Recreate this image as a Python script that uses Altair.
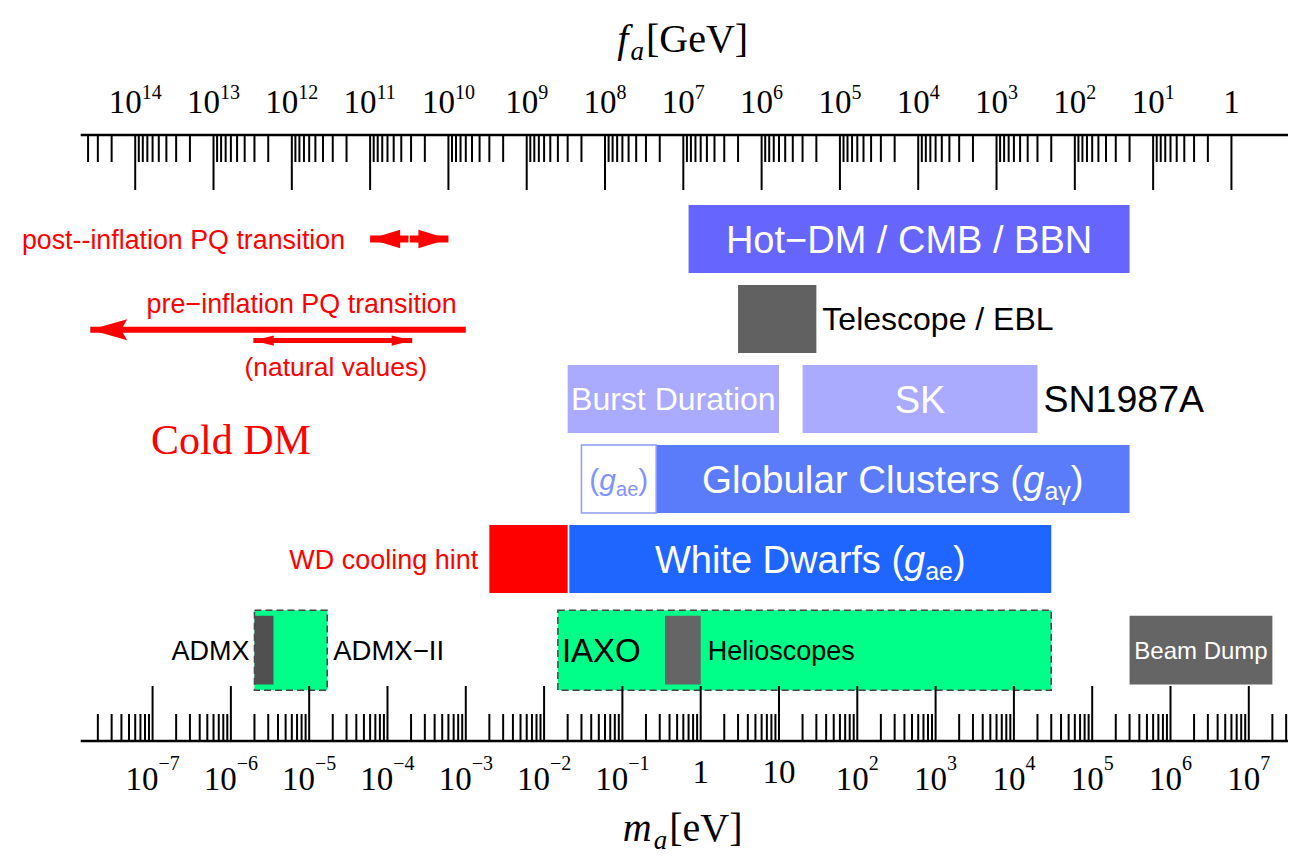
import altair as alt
import pandas as pd

# ---------------- data ----------------
MF = 6.0e6  # m_a [eV] * f_a [GeV]

TOP_DECADES = list(range(0, 15))     # f_a decades [GeV] carrying ticks
TOP_LABELS = list(range(0, 15))      # f_a decades labelled
BOT_DECADES = list(range(-8, 8))     # m_a decades [eV] carrying ticks
BOT_LABELS = list(range(-7, 8))      # m_a decades labelled
MINOR = [2, 3, 4, 5, 6, 7, 8, 9]

BAR_NAME = ["hot", "tel", "burst", "sk", "gce", "gc", "wdhint", "wd",
            "admx2", "iaxo", "admx", "helio", "beam"]
BAR_ROW = [0, 1, 2, 2, 3, 3, 4, 4, 5.14, 5.14, 5.14, 5.14, 5.14]
BAR_LO = [0.7, 3, 0.02, 20, 0.03, 0.27, 0.002, 0.021, 2e-6, 0.015, 2e-6, 0.35, 3e5]
BAR_HI = [3e5, 30, 10, 2e4, 0.27, 3e5, 0.02, 3e4, 1.7e-5, 3e4, 3.5e-6, 1.0, 2e7]

POST_F = [1e11, 1e10]     # post-inflation PQ transition [GeV]
PRE_M = [1e-3, 1.6e-8]    # pre-inflation arrow: start, tip [eV]
NAT_F = [3.1e12, 2.9e10]  # natural values [GeV]
COLD_M = [1e-6]
ANN_ROW = {"post": 0.0, "pre_text": 0.81, "pre_arrow": 1.134, "nat": 1.27,
           "nat_text": 1.59, "cold": 2.51}

# ---------------- styles ----------------
SANS = "Liberation Sans"
SERIF = "Liberation Serif"
RED = "#FF0000"
COL = {"hot": "#6666FF", "tel": "#616161", "burst": "#AAAAFF", "sk": "#AAAAFF",
       "gc": "#5B7CFA", "wdhint": "#FF0000", "wd": "#1F65FF",
       "admx": "#505050", "helio": "#656565", "beam": "#656565"}

W, H = 1207.3, 606
XS = alt.Scale(type="log", domain=[10 ** -7.918, 10 ** 7.5006], nice=False)
YS = alt.Scale(domain=[-1.3, 6.275], reverse=True, nice=False, zero=False)

ARIAL = {' ': 278, '(': 333, ')': 333, '/': 278, '−': 584, '-': 333,
         'A': 667, 'B': 667, 'C': 722, 'D': 722, 'E': 667, 'G': 778, 'H': 722,
         'I': 278, 'K': 667, 'L': 556, 'M': 833, 'N': 722, 'O': 778, 'P': 667,
         'Q': 778, 'S': 667, 'T': 611, 'W': 944, 'X': 667,
         'a': 556, 'b': 556, 'c': 500, 'd': 556, 'e': 556, 'f': 278, 'g': 556,
         'h': 556, 'i': 222, 'l': 222, 'm': 833, 'n': 556, 'o': 556, 'p': 556,
         'r': 333, 's': 500, 't': 278, 'u': 556, 'v': 500, 'w': 722, 'y': 500,
         'γ': 500}
TIMES = {'0': 500, '1': 500, '2': 500, '3': 500, '4': 500, '5': 500, '6': 500,
         '7': 500, '8': 500, '9': 500, '−': 564, '[': 333, ']': 333, 'G': 722,
         'e': 444, 'V': 722}
TIMES_IT = {'f': 278, 'a': 500, 'm': 722}


def wsans(s, size):
    return sum(ARIAL.get(c, 556) for c in s) * size / 1000.0


def X(f):
    return alt.X(f, type="quantitative", scale=XS, axis=None)


def Y(f):
    return alt.Y(f, type="quantitative", scale=YS, axis=None)


bars = pd.DataFrame(dict(name=BAR_NAME, row=BAR_ROW, lo=BAR_LO, hi=BAR_HI))
one = pd.DataFrame({"k": [0]})

layers = []

# ---------------- bars ----------------
def bar_layer(names, half, **mark):
    return (alt.Chart(bars)
            .transform_filter(alt.FieldOneOfPredicate(field="name", oneOf=names))
            .transform_calculate(y0=f"datum.row - {half}", y1=f"datum.row + {half}")
            .mark_rect(**mark)
            .encode(x=X("lo"), x2=alt.X2("hi"), y=Y("y0"), y2=alt.Y2("y1"),
                    color=alt.Color("name:N", legend=None,
                                    scale=alt.Scale(domain=list(COL.keys()),
                                                    range=list(COL.values())))))


layers.append(bar_layer(["hot", "tel", "burst", "sk", "gc", "wdhint", "wd"], 0.425))
layers.append(
    alt.Chart(bars)
    .transform_filter(alt.datum.name == "gce")
    .transform_calculate(y0="datum.row - 0.425", y1="datum.row + 0.425")
    .mark_rect(fill="white", stroke="#8A9BFF", strokeWidth=1.5)
    .encode(x=X("lo"), x2=alt.X2("hi"), y=Y("y0"), y2=alt.Y2("y1"))
)
layers.append(
    alt.Chart(bars)
    .transform_filter(alt.FieldOneOfPredicate(field="name", oneOf=["admx2", "iaxo"]))
    .transform_calculate(y0="datum.row - 0.5", y1="datum.row + 0.5")
    .mark_rect(fill="#00FF88", stroke="#444444", strokeWidth=1.5, strokeDash=[7, 4])
    .encode(x=X("lo"), x2=alt.X2("hi"), y=Y("y0"), y2=alt.Y2("y1"))
)
layers.append(bar_layer(["admx", "helio", "beam"], 0.43))


# ---------------- texts ----------------
def bar_base(name):
    return (alt.Chart(bars).transform_filter(alt.datum.name == name)
            .transform_calculate(cx="sqrt(datum.lo * datum.hi)"))


def txt(base, xf, yf, text, size, color, align="center", dx=0.0, dy=None,
        font=SANS, style="normal"):
    if dy is None:
        dy = 0.358 * size
    return base.mark_text(align=align, baseline="alphabetic", dx=dx, dy=dy,
                          fontSize=size, font=font, fontStyle=style,
                          color=color).encode(x=xf, y=yf, text=alt.value(text))


def rich(base, xf, yf, parts, color, main):
    # parts: (text, size, italic, shift)
    total = sum(wsans(t, s) for t, s, it, sh in parts)
    cur = -total / 2.0
    out = []
    for t, s, it, sh in parts:
        out.append(txt(base, xf, yf, t, s, color, align="left", dx=cur,
                       dy=0.358 * main + sh, style="italic" if it else "normal"))
        cur += wsans(t, s)
    return out


layers.append(txt(bar_base("hot"), X("cx"), Y("row"), "Hot−DM / CMB / BBN", 38, "white"))
layers.append(txt(bar_base("tel"), X("hi"), Y("row"), "Telescope / EBL", 32, "black",
                  align="left", dx=6))
layers.append(txt(bar_base("burst"), X("cx"), Y("row"), "Burst Duration", 32, "white"))
layers.append(txt(bar_base("sk"), X("cx"), Y("row"), "SK", 38, "white"))
layers.append(txt(bar_base("sk"), X("hi"), Y("row"), "SN1987A", 37.5, "black",
                  align="left", dx=6))
layers += rich(bar_base("gce"), X("cx"), Y("row"),
               [("(", 30, False, 0), ("g", 30, True, 0), ("ae", 20, False, 6),
                (")", 30, False, 0)], "#7F92FF", 30)
layers += rich(bar_base("gc"), X("cx"), Y("row"),
               [("Globular Clusters (", 38.5, False, 0), ("g", 38.5, True, 0),
                ("aγ", 25, False, 7), (")", 38.5, False, 0)], "white", 38.5)
layers.append(txt(bar_base("wdhint"), X("lo"), Y("row"), "WD cooling hint", 27, RED,
                  align="right", dx=-11))
layers += rich(bar_base("wd"), X("cx"), Y("row"),
               [("White Dwarfs (", 38, False, 0), ("g", 38, True, 0),
                ("ae", 25, False, 7), (")", 38, False, 0)], "white", 38)
layers.append(txt(bar_base("admx"), X("lo"), Y("row"), "ADMX", 27, "black",
                  align="right", dx=-5))
layers.append(txt(bar_base("admx2"), X("hi"), Y("row"), "ADMX−II", 27.5, "black",
                  align="left", dx=6))
layers.append(txt(bar_base("iaxo"), X("lo"), Y("row"), "IAXO", 33, "black",
                  align="left", dx=4))
layers.append(txt(bar_base("helio"), X("hi"), Y("row"), "Helioscopes", 27, "black",
                  align="left", dx=7))
layers.append(txt(bar_base("beam"), X("cx"), Y("row"), "Beam Dump", 24, "white"))

# ---------------- left annotations ----------------
post = pd.DataFrame({"m0": [MF / POST_F[0]], "m1": [MF / POST_F[1]],
                     "row": [ANN_ROW["post"]]})
post_base = alt.Chart(post).transform_calculate(
    mid="sqrt(datum.m0 * datum.m1)", ya="datum.row - 0.12", yb="datum.row + 0.12")
layers.append(post_base.mark_rule(color=RED, strokeWidth=7)
              .encode(x=X("m0"), x2=alt.X2("m1"), y=Y("row")))
layers.append(post_base.mark_point(shape="M0,0L2,-0.62L2,0.62Z", size=900, filled=True,
                                   color=RED, opacity=1, strokeWidth=0)
              .encode(x=X("m0"), y=Y("row")))
layers.append(post_base.mark_point(shape="M0,0L-2,-0.62L-2,0.62Z", size=900, filled=True,
                                   color=RED, opacity=1, strokeWidth=0)
              .encode(x=X("m1"), y=Y("row")))
layers.append(post_base.mark_rule(color="white", strokeWidth=1.5)
              .encode(x=X("mid"), y=Y("ya"), y2=alt.Y2("yb")))
layers.append(txt(alt.Chart(post), X("m0"), Y("row"), "post--inflation PQ transition",
                  26.8, RED, align="right", dx=-25))

pre = pd.DataFrame({"m0": [PRE_M[0]], "m1": [PRE_M[1]], "row": [ANN_ROW["pre_arrow"]],
                    "rt": [ANN_ROW["pre_text"]]})
layers.append(alt.Chart(pre).mark_rule(color=RED, strokeWidth=6)
              .encode(x=X("m0"), x2=alt.X2("m1"), y=Y("row")))
layers.append(alt.Chart(pre).mark_point(shape="M0,0L2.1,-0.6L1.75,0L2.1,0.6Z", size=1240,
                                        filled=True, color=RED, opacity=1, strokeWidth=0)
              .encode(x=X("m1"), y=Y("row")))
layers.append(txt(alt.Chart(pre), X("m0"), Y("rt"), "pre−inflation PQ transition",
                  26.9, RED, align="right", dx=-9))

nat = pd.DataFrame({"m0": [MF / NAT_F[0]], "m1": [MF / NAT_F[1]], "row": [ANN_ROW["nat"]],
                    "rt": [ANN_ROW["nat_text"]]})
nat_base = alt.Chart(nat).transform_calculate(mid="sqrt(datum.m0 * datum.m1)")
layers.append(nat_base.mark_rule(color=RED, strokeWidth=5)
              .encode(x=X("m0"), x2=alt.X2("m1"), y=Y("row")))
layers.append(nat_base.mark_point(shape="M0,0L2,-0.5L2,0.5Z", size=420, filled=True,
                                  color=RED, opacity=1, strokeWidth=0)
              .encode(x=X("m0"), y=Y("row")))
layers.append(nat_base.mark_point(shape="M0,0L-2,-0.5L-2,0.5Z", size=420, filled=True,
                                  color=RED, opacity=1, strokeWidth=0)
              .encode(x=X("m1"), y=Y("row")))
layers.append(txt(nat_base, X("mid"), Y("rt"), "(natural values)", 26.5, RED, dx=3))

cold = pd.DataFrame({"m": COLD_M, "row": [ANN_ROW["cold"]]})
layers.append(txt(alt.Chart(cold), X("m"), Y("row"), "Cold DM", 42, RED, font=SERIF,
                  dy=0.33 * 42))

# ---------------- axes (lines, ticks, labels, titles) ----------------
layers.append(alt.Chart(one).mark_rule(color="black", strokeWidth=2.5)
              .encode(x=alt.value(0), x2=alt.value(W), y=alt.value(0)))
layers.append(alt.Chart(one).mark_rule(color="black", strokeWidth=2.5)
              .encode(x=alt.value(0), x2=alt.value(W), y=alt.value(H)))

lo_m, hi_m = XS.domain[0], XS.domain[1]
bt, tt = [], []
for d in BOT_DECADES:
    bt.append({"m": 10.0 ** d, "major": True})
    for k in MINOR:
        bt.append({"m": k * 10.0 ** d, "major": False})
for d in TOP_DECADES:
    tt.append({"m": MF / 10.0 ** d, "major": True})
    for k in MINOR:
        tt.append({"m": MF / (k * 10.0 ** d), "major": False})
bt = pd.DataFrame([r for r in bt if lo_m <= r["m"] <= hi_m])
tt = pd.DataFrame([r for r in tt if lo_m <= r["m"] <= hi_m])

for df, y0, sgn in [(bt, H, -1), (tt, 0, 1)]:
    for major, L in [(True, 55), (False, 27)]:
        layers.append(alt.Chart(df).transform_filter(alt.datum.major == major)
                      .mark_rule(color="black", strokeWidth=2)
                      .encode(x=X("m"), y=alt.value(y0), y2=alt.value(y0 + sgn * L)))

BASE_SIZE, EXP_SIZE = 33, 20


def tw(s, size):
    return sum(TIMES.get(c, 500) for c in s) * size / 1000.0


def lab_df(rows):
    return pd.DataFrame(rows, columns=["m", "base", "exp"])


blab = lab_df([(10.0 ** e, "1" if e == 0 else "10",
                "" if e in (0, 1) else ("−" + str(-e) if e < 0 else str(e)))
               for e in BOT_LABELS])
tlab = lab_df([(MF / 10.0 ** k, "1" if k == 0 else "10", "" if k == 0 else str(k))
               for k in TOP_LABELS])

for df, yb_plain, yb_base, yb_exp in [(blab, 648, 655, 635), (tlab, -22, -22, -36)]:
    plain = df[df["exp"] == ""]
    layers.append(alt.Chart(plain).mark_text(align="center", baseline="alphabetic",
                                             font=SERIF, fontSize=BASE_SIZE, color="black")
                  .encode(x=X("m"), y=alt.value(yb_plain), text="base:N"))
    ex = df[df["exp"] != ""].copy()
    ex["w"] = ex["exp"].apply(lambda s: round(tw(s, EXP_SIZE), 2))
    for wv, g in ex.groupby("w"):
        junction = tw("10", BASE_SIZE) / 2.0 - wv / 2.0
        layers.append(alt.Chart(g[["m", "base", "exp"]])
                      .mark_text(align="right", baseline="alphabetic", dx=junction,
                                 font=SERIF, fontSize=BASE_SIZE, color="black")
                      .encode(x=X("m"), y=alt.value(yb_base), text="base:N"))
        layers.append(alt.Chart(g[["m", "base", "exp"]])
                      .mark_text(align="left", baseline="alphabetic", dx=junction,
                                 font=SERIF, fontSize=EXP_SIZE, color="black")
                      .encode(x=X("m"), y=alt.value(yb_exp), text="exp:N"))


def title(parts, xc, yb):
    # parts: (text, size, italic, shift)
    def w(t, s, it):
        return sum((TIMES_IT if it else TIMES).get(c, 500) for c in t) * s / 1000.0
    total = sum(w(t, s, it) for t, s, it, sh in parts)
    cur = -total / 2.0
    out = []
    for t, s, it, sh in parts:
        out.append(alt.Chart(one).mark_text(align="left", baseline="alphabetic", dx=cur,
                                            dy=sh, font=SERIF, fontSize=s,
                                            fontStyle="italic" if it else "normal",
                                            color="black")
                   .encode(x=alt.value(xc), y=alt.value(yb), text=alt.value(t)))
        cur += w(t, s, it) + (2 if it else 0)
    return out


layers += title([("f", 40, True, 0), ("a", 27, True, 8), ("[GeV]", 40, False, 0)], 600, -83)
layers += title([("m", 40, True, 0), ("a", 27, True, 8), ("[eV]", 40, False, 0)], 600, 706)

chart = (alt.layer(*layers)
         .properties(width=W, height=H,
                     padding={"left": 72.7, "top": 127, "right": 8, "bottom": 113},
                     autosize=alt.AutoSizeParams(type="none"))
         .configure_view(stroke=None))

chart.save("out.html", embed_options={"renderer": "svg", "actions": False})
